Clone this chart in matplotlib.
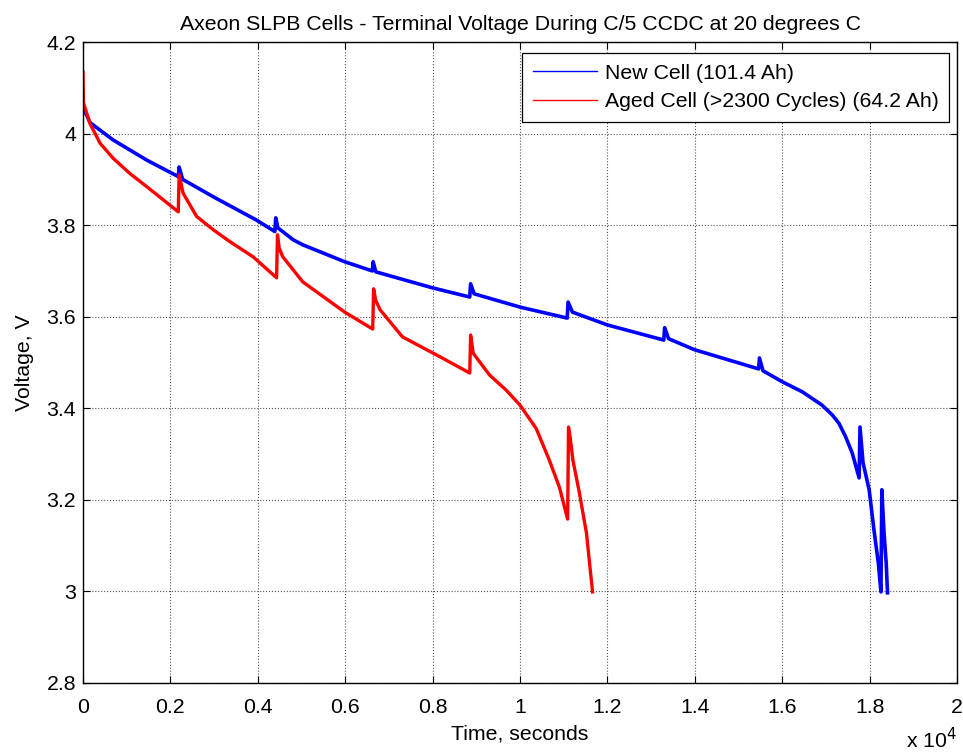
import matplotlib
matplotlib.use("Agg")
import matplotlib.pyplot as plt

# ---- data (time in seconds, voltage in V) ----
new_time = [0, 70, 160, 690, 1460, 2180, 2200, 2280, 2980, 3970, 4390, 4410, 4460,
            4810, 5030, 5990, 6620, 6640, 6700, 8000, 8850, 8870, 8950, 10000,
            11080, 11100, 11200, 12000, 13290, 13310, 13400, 13990, 15460, 15480,
            15560, 16000, 16460, 16910, 17150, 17300, 17450, 17600, 17760, 17780,
            17850, 17990, 18100, 18200, 18260, 18280, 18330, 18380, 18410]
new_volt = [4.052, 4.043, 4.024, 3.986, 3.942, 3.906, 3.927, 3.900, 3.862, 3.811,
            3.786, 3.816, 3.794, 3.768, 3.757, 3.720, 3.700, 3.720, 3.698, 3.663,
            3.643, 3.672, 3.650, 3.621, 3.597, 3.632, 3.610, 3.582, 3.549, 3.576,
            3.552, 3.528, 3.486, 3.510, 3.482, 3.458, 3.436, 3.407, 3.385, 3.367,
            3.338, 3.303, 3.248, 3.359, 3.281, 3.222, 3.134, 3.062, 2.999, 3.222,
            3.128, 3.062, 2.997]

aged_time = [0, 10, 160, 390, 690, 1070, 1460, 1840, 2180, 2200, 2290, 2600, 2980,
             3360, 3890, 4430, 4450, 4490, 4570, 5030, 5990, 6630, 6650, 6700, 6800,
             7310, 8000, 8160, 8850, 8870, 8930, 9300, 9680, 10000, 10370, 10670,
             10900, 11090, 11110, 11150, 11210, 11360, 11520, 11660]
aged_volt = [4.134, 4.067, 4.022, 3.979, 3.946, 3.913, 3.884, 3.855, 3.829, 3.910,
             3.870, 3.819, 3.790, 3.764, 3.731, 3.685, 3.779, 3.750, 3.731, 3.676,
             3.610, 3.573, 3.661, 3.635, 3.615, 3.556, 3.521, 3.513, 3.477, 3.560,
             3.520, 3.473, 3.440, 3.407, 3.356, 3.287, 3.228, 3.158, 3.359, 3.335,
             3.287, 3.215, 3.128, 2.999]

series_labels = ["New Cell (101.4 Ah)", "Aged Cell (>2300 Cycles) (64.2 Ah)"]
x_ticks = [0, 2000, 4000, 6000, 8000, 10000, 12000, 14000, 16000, 18000, 20000]
x_tick_labels = ["0", "0.2", "0.4", "0.6", "0.8", "1", "1.2", "1.4", "1.6", "1.8", "2"]
y_ticks = [2.8, 3.0, 3.2, 3.4, 3.6, 3.8, 4.0, 4.2]
y_tick_labels = ["2.8", "3", "3.2", "3.4", "3.6", "3.8", "4", "4.2"]

plt.rcParams['font.family'] = ['Liberation Sans', 'DejaVu Sans']
FS = 15.3

fig = plt.figure(figsize=(9.63, 7.56), dpi=100)
ax = fig.add_axes([83/963, 1 - 683/756, 874/963, 641/756])

ax.plot(new_time, new_volt, color='#0000ff', lw=2.6, label=series_labels[0])
ax.plot(aged_time, aged_volt, color='#ff0000', lw=2.4, label=series_labels[1])

ax.set_xlim(0, 20000)
ax.set_ylim(2.8, 4.2)
ax.set_xticks(x_ticks)
ax.set_xticklabels(x_tick_labels)
ax.set_yticks(y_ticks)
ax.set_yticklabels(y_tick_labels)
ax.tick_params(direction='in', length=5, width=0.8, top=True, right=True,
               labelsize=FS, colors='black')
ax.tick_params(axis='x', pad=11)
ax.tick_params(axis='y', pad=5)
ax.grid(True, color='#555555', linestyle=':', linewidth=0.8)
for s in ax.spines.values():
    s.set_linewidth(1.0)
    s.set_color('black')

ax.set_title("Axeon SLPB Cells - Terminal Voltage During C/5 CCDC at 20 degrees C",
             fontsize=FS, pad=9)
ax.set_xlabel("Time, seconds", fontsize=FS, labelpad=5)
ax.set_ylabel("Voltage, V", fontsize=FS, labelpad=9)
ax.text(1.0, -0.068, r"x 10$^{4}$", transform=ax.transAxes, ha='right', va='top',
        fontsize=FS)

leg = ax.legend(loc='upper right', bbox_to_anchor=(1 - 8/874, 1 - 11/641),
                borderaxespad=0, fontsize=FS, fancybox=False, framealpha=1,
                edgecolor='black', handlelength=3.05, handletextpad=0.33,
                labelspacing=0.45, borderpad=0.5)
leg.get_frame().set_linewidth(0.9)
for h in leg.legend_handles:
    h.set_linewidth(1.0)

fig.savefig("out.png", dpi=100)
